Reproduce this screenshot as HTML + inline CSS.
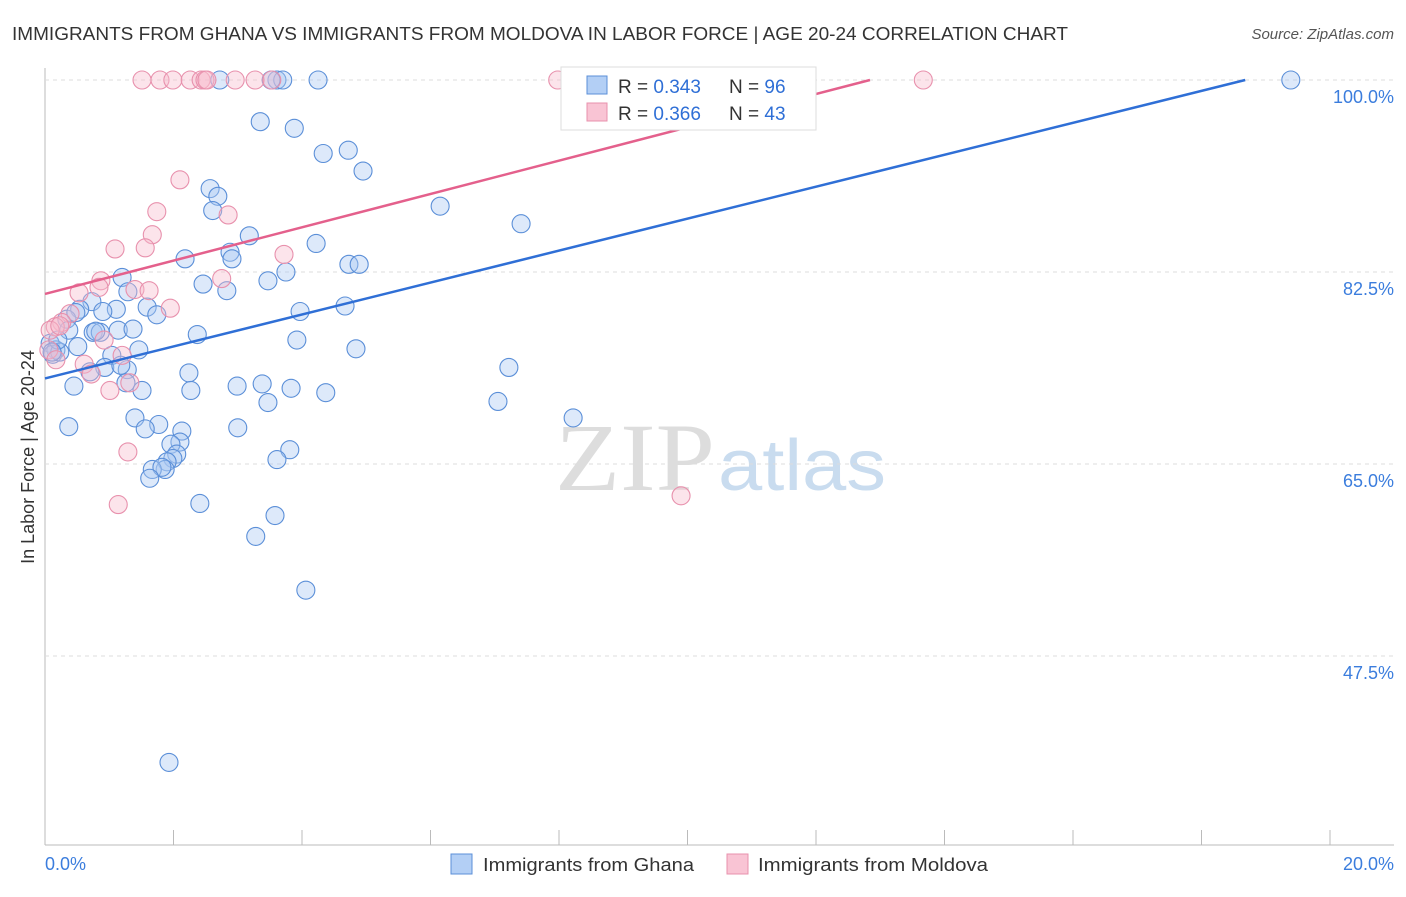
<!DOCTYPE html>
<html><head><meta charset="utf-8"><style>
body{margin:0;background:#fff;font-family:"Liberation Sans",sans-serif}
</style></head><body>
<svg id="c" width="1406" height="892" xmlns="http://www.w3.org/2000/svg">
<text x="12" y="40" font-size="18" fill="#333" textLength="1056" lengthAdjust="spacingAndGlyphs">IMMIGRANTS FROM GHANA VS IMMIGRANTS FROM MOLDOVA IN LABOR FORCE | AGE 20-24 CORRELATION CHART</text>
<text x="1394" y="39" font-size="15" fill="#555" font-style="italic" text-anchor="end">Source: ZipAtlas.com</text>
<text x="34" y="457" font-size="18" fill="#333" transform="rotate(-90 34 457)" text-anchor="middle">In Labor Force | Age 20-24</text>
<text x="555" y="490" font-size="96" fill="#ddd" font-family="Liberation Serif" textLength="160" lengthAdjust="spacingAndGlyphs">ZIP</text>
<text x="718" y="490" font-size="72" fill="#c9dcef" textLength="168" lengthAdjust="spacingAndGlyphs">atlas</text>
<g id="grid"></g><g id="pts"></g><g id="lines"></g>
<g>
<rect x="561" y="67" width="255" height="63" fill="#fff" stroke="#ddd"/>
<rect x="587" y="76" width="20" height="18" fill="#b3cff5" stroke="#5b8fd8"/>
<rect x="587" y="103" width="20" height="18" fill="#f9c4d4" stroke="#e891ad"/>
<text x="618" y="93" font-size="19" fill="#333">R = <tspan fill="#2f6fd6">0.343</tspan></text>
<text x="729" y="93" font-size="19" fill="#333">N = <tspan fill="#2f6fd6">96</tspan></text>
<text x="618" y="120" font-size="19" fill="#333">R = <tspan fill="#2f6fd6">0.366</tspan></text>
<text x="729" y="120" font-size="19" fill="#333">N = <tspan fill="#2f6fd6">43</tspan></text>
</g>
<g>
<rect x="451" y="854" width="21" height="20" fill="#b3cff5" stroke="#5b8fd8"/>
<text x="483" y="871" font-size="18" fill="#333" textLength="211" lengthAdjust="spacingAndGlyphs">Immigrants from Ghana</text>
<rect x="727" y="854" width="21" height="20" fill="#f9c4d4" stroke="#e891ad"/>
<text x="758" y="871" font-size="18" fill="#333" textLength="230" lengthAdjust="spacingAndGlyphs">Immigrants from Moldova</text>
</g>
<text x="45" y="870" font-size="18" fill="#3b7ddd">0.0%</text>
<text x="1394" y="870" font-size="18" fill="#3b7ddd" text-anchor="end">20.0%</text>
</svg>
<script>
const yTicks=[100,82.5,65,47.5];
const xTicks=[0,2,4,6,8,10,12,14,16,18,20];
const ghanaPx=[[277,80],[283,80],[318,80],[220,80],[271,80],[1291,80],[260,122],[294,128],[323,153],[348,150],[363,171],[210,189],[218,196],[213,211],[440,206],[521,224],[249,236],[316,243],[185,259],[230,252],[232,259],[349,264],[359,264],[286,272],[268,281],[203,284],[227,291],[122,277],[128,292],[92,302],[80,309],[147,307],[157,315],[116,309],[103,311],[300,312],[345,306],[67,319],[76,313],[69,330],[93,332],[100,332],[96,331],[118,330],[133,329],[197,335],[297,340],[356,349],[50,343],[56,350],[53,354],[60,352],[78,347],[112,355],[139,350],[509,367],[105,367],[127,370],[189,373],[90,372],[126,383],[142,391],[74,386],[191,390],[237,386],[262,384],[291,388],[326,393],[268,402],[498,401],[573,418],[135,418],[159,425],[145,429],[69,427],[238,428],[182,431],[180,442],[171,444],[177,454],[173,459],[167,462],[165,469],[152,469],[162,467],[290,450],[277,460],[150,478],[200,504],[275,516],[256,536],[306,590],[169,762],[121,365],[58,340],[52,352]];
const moldovaPx=[[142,80],[160,80],[173,80],[190,80],[201,80],[205,80],[207,80],[235,80],[255,80],[272,80],[558,80],[923,80],[640,80],[180,180],[157,212],[228,215],[152,235],[115,249],[145,248],[284,254],[222,279],[101,281],[99,287],[79,293],[135,289],[149,291],[170,308],[70,314],[62,322],[55,327],[50,330],[104,340],[122,355],[49,350],[56,360],[84,364],[91,374],[130,383],[110,391],[128,452],[118,505],[681,496],[60,326]];
const ghanaX=ghanaPx.map(p=>+((p[0]-45)/64.25).toFixed(2)), ghanaY=ghanaPx.map(p=>+(100-(p[1]-80)/10.971).toFixed(1));
const moldovaX=moldovaPx.map(p=>+((p[0]-45)/64.25).toFixed(2)), moldovaY=moldovaPx.map(p=>+(100-(p[1]-80)/10.971).toFixed(1));
const ghanaFit=[72.8,100,18.68];
const moldovaFit=[80.5,100,12.84];
const X=v=>45+v*64.25, Y=v=>80+(100-v)*10.971;
const NS="http://www.w3.org/2000/svg";
function mk(t,a,p){const e=document.createElementNS(NS,t);for(const k in a)e.setAttribute(k,a[k]);p.appendChild(e);return e;}
const g=document.getElementById('grid');
mk('line',{x1:45,y1:68,x2:45,y2:845,stroke:'#bbb'},g);
mk('line',{x1:45,y1:845,x2:1394,y2:845,stroke:'#bbb'},g);
yTicks.forEach(t=>{
 const l=mk('line',{x1:45,y1:Y(t),x2:1394,y2:Y(t),stroke:'#ddd','stroke-dasharray':'4,4'},g);
 
 
 const tx=mk('text',{x:1394,y:Y(t)+23,'font-size':18,fill:'#3b7ddd','text-anchor':'end'},g);
 tx.textContent=t.toFixed(1)+'%';
 
 
});
xTicks.forEach(t=>{
 const l=mk('line',{x1:X(t),y1:830,x2:X(t),y2:845,stroke:'#bbb'},g);
 
 
});
const P=document.getElementById('pts');
function dots(xs,ys,fill,stroke,name){xs.forEach((x,i)=>{
 const c=mk('circle',{cx:X(x),cy:Y(ys[i]),r:9,fill:fill,'fill-opacity':0.4,stroke:stroke,'stroke-width':1.1},P);
 
 
});}
dots(ghanaX,ghanaY,'#a9c8f2','#5b8fd8','ghana-point');
dots(moldovaX,moldovaY,'#f7bccd','#e891ad','moldova-point');
const L=document.getElementById('lines');
const bl=mk('line',{x1:X(0),y1:Y(ghanaFit[0]),x2:X(ghanaFit[2]),y2:Y(ghanaFit[1]),stroke:'#2f6fd6','stroke-width':2.5},L);


const pl=mk('line',{x1:X(0),y1:Y(moldovaFit[0]),x2:X(moldovaFit[2]),y2:Y(moldovaFit[1]),stroke:'#e4608c','stroke-width':2.5},L);


</script>
</body></html>
